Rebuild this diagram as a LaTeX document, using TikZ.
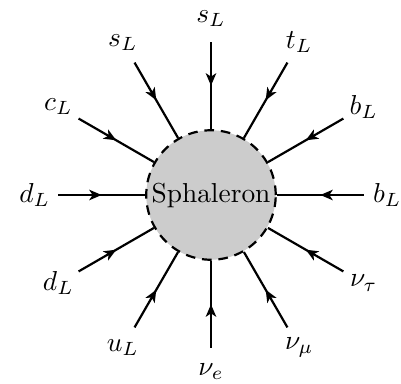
\documentclass[tikz,border=0pt]{standalone}
\usepackage{amsmath,amssymb}
\usepackage{xcolor}
\usepackage{tikz}
\usetikzlibrary{arrows.meta, decorations.markings}

\begin{document}
\begin{tikzpicture}[
  blob/.style={draw, circle, thick, dash pattern=on 3.5pt off 2.5pt,
               fill=gray!40, minimum size=1.66cm, inner sep=0pt},
  leg/.style={thick, postaction={decorate},
              decoration={markings, mark=at position 0.5 with
                {\arrow{Stealth[length=4.5pt, width=3.8pt, inset=1.2pt]}}}}
]
  \useasboundingbox (-2.705,-2.423) rectangle (2.436,2.5);
  \node[blob] (sph) {Sphaleron};

  \foreach \a/\lab [count=\i] in {90/s_L, 120/s_L, 60/t_L, 150/c_L,
      30/b_L, 180/d_L, 0/b_L, 210/d_L, 330/\nu_\tau, 240/u_L,
      300/\nu_\mu, 270/\nu_e} {
    \coordinate (end\i) at (\a:1.96);
    \node (lab\i) at (\a:2.26) {$\lab$};
    \draw[leg] (end\i) -- (sph.\a);
  }
\end{tikzpicture}
\end{document}
